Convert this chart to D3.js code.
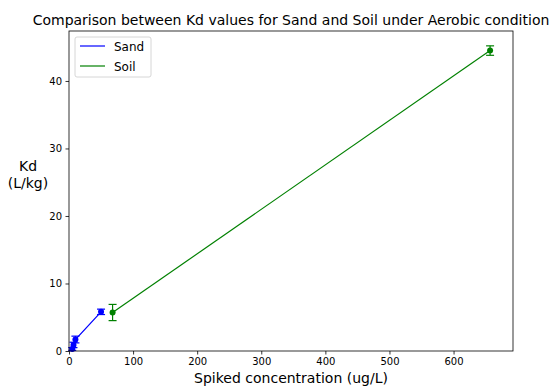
<!DOCTYPE html>
<html><head><meta charset="utf-8">
<script src="https://cdn.jsdelivr.net/npm/d3@7"></script>
<style>body{margin:0;background:#fff}text{font-family:"DejaVu Sans",sans-serif}</style>
</head><body><svg id="c" width="553" height="386"></svg>
<script>
const sandX = [5, 7, 10, 50];
const sandY = [0.3, 0.9, 1.7, 5.8];
const sandErr = [0.2, 0.4, 0.5, 0.4];
const soilX = [68, 657];
const soilY = [5.7, 44.5];
const soilErr = [1.2, 0.7];
const xTicks = [0, 100, 200, 300, 400, 500, 600];
const yTicks = [0, 10, 20, 30, 40];
const series = [
  {name: "Sand", color: "#0000ff", xs: sandX, ys: sandY, es: sandErr},
  {name: "Soil", color: "#008000", xs: soilX, ys: soilY, es: soilErr}
];
const L = 69, R = 513, T = 31, B = 351;
const svg = d3.select("#c");
const x = d3.scaleLinear().domain([0, 692.75]).range([L, R]);
const y = d3.scaleLinear().domain([0, 47.4]).range([B, T]);

const gx = svg.append("g").attr("transform", `translate(0,${B})`)
  .call(d3.axisBottom(x).tickValues(xTicks).tickSize(3.5).tickPadding(3.5));
const gy = svg.append("g").attr("transform", `translate(${L},0)`)
  .call(d3.axisLeft(y).tickValues(yTicks).tickSize(3.5).tickPadding(3.5));
[gx, gy].forEach(g => {
  g.select(".domain").remove();
  g.selectAll("text").attr("font-size", 10).attr("fill", "#000").style("font-family", "DejaVu Sans");
  g.selectAll("line").attr("stroke", "#000").attr("stroke-width", 0.8);
});

const line = d3.line();
series.forEach(s => {
  const pts = s.xs.map((v, i) => [x(v), y(s.ys[i])]);
  svg.append("path").attr("d", line(pts)).attr("fill", "none")
    .attr("stroke", s.color).attr("stroke-width", 1.2);
  s.xs.forEach((v, i) => {
    const cx = x(v), y1 = y(s.ys[i] - s.es[i]), y2 = y(s.ys[i] + s.es[i]);
    svg.append("line").attr("x1", cx).attr("x2", cx).attr("y1", y1).attr("y2", y2)
      .attr("stroke", s.color).attr("stroke-width", 1.2);
    [y1, y2].forEach(yy => svg.append("line").attr("x1", cx - 4).attr("x2", cx + 4)
      .attr("y1", yy).attr("y2", yy).attr("stroke", s.color).attr("stroke-width", 1.2));
    svg.append("circle").attr("cx", cx).attr("cy", y(s.ys[i])).attr("r", 3).attr("fill", s.color);
  });
});

svg.append("rect").attr("x", L).attr("y", T).attr("width", R - L).attr("height", B - T)
  .attr("fill", "none").attr("stroke", "#000").attr("stroke-width", 0.8);

svg.append("text").attr("x", (L + R) / 2).attr("y", 25).attr("text-anchor", "middle")
  .attr("font-size", 14).text("Comparison between Kd values for Sand and Soil under Aerobic condition");
svg.append("text").attr("x", (L + R) / 2).attr("y", 383).attr("text-anchor", "middle")
  .attr("font-size", 14).text("Spiked concentration (ug/L)");
const yl = svg.append("text").attr("text-anchor", "middle").attr("font-size", 14);
yl.append("tspan").attr("x", 28).attr("y", 171).text("Kd");
yl.append("tspan").attr("x", 28).attr("y", 188).text("(L/kg)");

const lg = svg.append("g");
lg.append("rect").attr("x", 75).attr("y", 37).attr("width", 76).attr("height", 40).attr("rx", 2)
  .attr("fill", "#fff").attr("fill-opacity", 0.8).attr("stroke", "#ccc").attr("stroke-width", 0.8);
series.forEach((s, i) => {
  const yy = 46 + i * 20;
  lg.append("line").attr("x1", 80).attr("x2", 105).attr("y1", yy).attr("y2", yy)
    .attr("stroke", s.color).attr("stroke-width", 1.2);
  lg.append("text").attr("x", 114).attr("y", yy + 4.5).attr("font-size", 12).text(s.name);
});
</script></body></html>
